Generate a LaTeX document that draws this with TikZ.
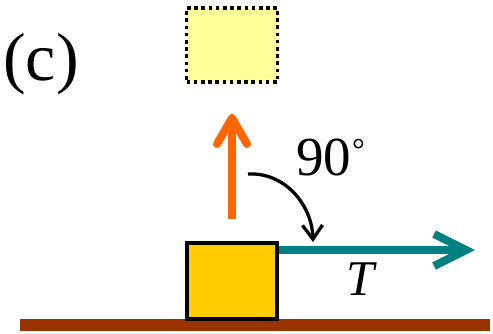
\documentclass[tikz,border=0pt]{standalone}
\usepackage{fontspec}
\setmainfont{Liberation Serif}
\usetikzlibrary{arrows.meta}
\definecolor{lightyel}{HTML}{FFFF99}
\definecolor{gold}{HTML}{FFCC00}
\definecolor{orng}{HTML}{FF6600}
\definecolor{tealc}{HTML}{008080}
\definecolor{brownc}{HTML}{993300}
\tikzset{
  lbl/.style={inner sep=0pt, anchor=base west},
  block/.style={draw=black, line width=3.6pt, fill=gold, inner sep=0pt, minimum width=90pt, minimum height=76pt},
  ghost/.style={draw=black, line width=3.6pt, dash pattern=on 3.6pt off 3.6pt, fill=lightyel, inner sep=0pt, minimum width=91pt, minimum height=74pt},
}
\begin{document}
\begin{tikzpicture}[x=1pt,y=-1pt]
\useasboundingbox (0,0) rectangle (493,333);
% ground
\fill[brownc] (20,319) rectangle (490,331);
% ghost block
\node[ghost] (g) at (232,45) {};
% block
\node[block] (b) at (232,281) {};
% orange arrow
\coordinate (otail) at (232,219);
\coordinate (otip) at (232,114);
\draw[orng, line width=8pt, -{Straight Barb[length=26pt,width=30pt,round]}] (otail) -- (otip);
% teal arrow
\coordinate (ttip) at (475,250);
\draw[tealc, line width=8pt, -{Straight Barb[length=32pt,width=32pt]}] (b.east |- ttip) -- (ttip);
% curved arrow
\coordinate (cs) at (248,174);
\coordinate (ce) at (313,242);
\draw[black, line width=3.3pt, -{Straight Barb[length=14pt,width=20pt]}] (cs) .. controls (285,172) and (312,205) .. (ce);
% labels
\node[lbl, font=\fontsize{68}{72}\selectfont] (c) at (3,80) {(c)};
\node[lbl, font=\fontsize{55}{58}\selectfont] (a) at (296,175) {90\kern1pt\raisebox{15pt}{\fontsize{32}{34}\selectfont\textdegree}};
\node[lbl, font=\fontsize{50}{54}\selectfont\itshape] (t) at (346,295) {T};
\end{tikzpicture}
\end{document}
